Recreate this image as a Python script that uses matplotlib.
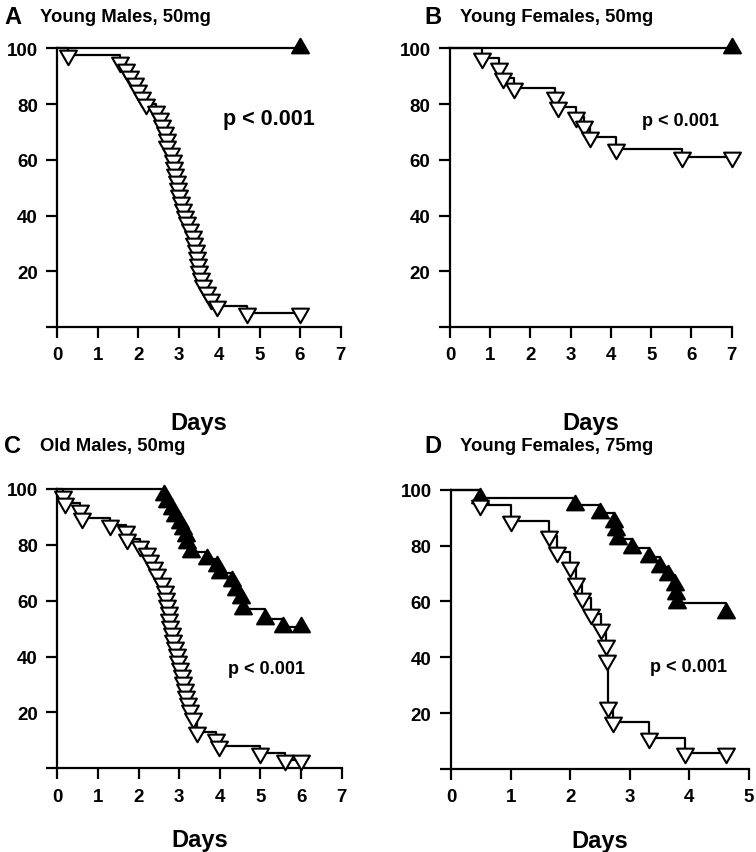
import matplotlib
matplotlib.use("Agg")
import matplotlib.pyplot as plt
from matplotlib.path import Path

plt.rcParams['font.family'] = ['Liberation Sans', 'DejaVu Sans']
plt.rcParams['font.weight'] = 'bold'

# ---- data (days, % survival) ----
# A: young males, 50mg
a_open_t = [0.27, 1.55, 1.70, 1.80, 1.92, 2.00, 2.10, 2.20, 2.45, 2.55, 2.60, 2.65, 2.70,
            2.72, 2.80, 2.85, 2.88, 2.92, 2.95, 2.98, 3.02, 3.05, 3.10, 3.15, 3.20, 3.28,
            3.35, 3.38, 3.42, 3.45, 3.48, 3.50, 3.55, 3.60, 3.70, 3.80, 3.95, 4.70, 6.00]
a_open_s = [97.5, 95.0, 92.5, 90.0, 87.5, 85.0, 82.5, 80.0, 77.5, 75.0, 72.5, 70.0, 67.5,
            65.0, 62.5, 60.0, 57.5, 55.0, 52.5, 50.0, 47.5, 45.0, 42.5, 40.0, 37.5, 35.0,
            32.5, 30.0, 27.5, 25.0, 22.5, 20.0, 17.5, 15.0, 12.5, 10.0, 7.5, 5.0, 5.0]
a_fill_t = [6.0]
a_fill_s = [100.0]

# B: young females, 50mg
b_open_t = [0.79, 1.22, 1.32, 1.60, 2.62, 2.68, 3.13, 3.33, 3.47, 4.13, 5.76, 7.00]
b_open_s = [96.5, 93.0, 89.5, 85.7, 82.5, 79.0, 75.5, 72.0, 68.0, 64.0, 61.0, 61.0]
b_fill_t = [7.0]
b_fill_s = [100.0]

# C: old males, 50mg
c_open_t = [0.15, 0.20, 0.55, 0.62, 1.30, 1.68, 1.72, 2.04, 2.21, 2.29, 2.38, 2.46, 2.58,
            2.66, 2.68, 2.70, 2.74, 2.76, 2.78, 2.82, 2.86, 2.90, 2.94, 2.98, 3.02, 3.06,
            3.10, 3.14, 3.18, 3.22, 3.26, 3.34, 3.45, 3.90, 3.97, 5.00, 5.60, 6.00]
c_open_s = [97.5, 95.0, 92.5, 89.5, 87.0, 85.0, 82.0, 79.5, 77.0, 74.5, 72.0, 69.5, 66.5,
            63.5, 61.0, 58.5, 56.0, 53.5, 51.0, 48.5, 46.0, 43.5, 41.0, 38.5, 36.0, 33.5,
            31.0, 28.5, 26.0, 23.5, 21.0, 18.0, 13.0, 10.5, 8.0, 5.5, 3.0, 3.0]
c_fill_t = [2.62, 2.70, 2.83, 2.90, 3.03, 3.10, 3.16, 3.20, 3.28, 3.69, 3.94, 4.00, 4.31,
            4.39, 4.52, 4.56, 5.10, 5.55, 6.00]
c_fill_s = [98.0, 95.5, 93.0, 90.5, 88.0, 85.5, 83.0, 80.5, 77.5, 75.0, 72.5, 70.0, 67.0,
            64.0, 61.0, 57.0, 53.5, 50.5, 50.5]

# D: young females, 75mg
d_open_t = [0.48, 1.00, 1.65, 1.78, 2.00, 2.10, 2.20, 2.35, 2.52, 2.60, 2.61, 2.64, 2.72,
            3.33, 3.93, 4.61]
d_open_s = [94.4, 88.9, 83.3, 77.8, 72.2, 66.7, 61.1, 55.6, 50.0, 44.4, 38.9, 22.2, 16.7,
            11.1, 5.6, 5.6]
d_fill_t = [0.48, 2.08, 2.50, 2.73, 2.77, 2.81, 3.03, 3.33, 3.50, 3.64, 3.75, 3.77, 3.80, 4.62]
d_fill_s = [97.0, 94.5, 91.5, 88.5, 85.5, 82.5, 79.0, 75.8, 72.5, 69.3, 66.0, 62.8, 59.3, 56.0]

letters = ['A', 'B', 'C', 'D']
titles = ['Young Males, 50mg', 'Young Females, 50mg', 'Old Males, 50mg', 'Young Females, 75mg']
xmax = [7, 7, 7, 5]

W, H = 756, 853

# triangles with centroid on the data point
tri_down = Path([(-1, 0.577), (1, 0.577), (0, -1.155), (-1, 0.577)],
                [Path.MOVETO, Path.LINETO, Path.LINETO, Path.CLOSEPOLY])
tri_up = Path([(-1, -0.577), (1, -0.577), (0, 1.155), (-1, -0.577)],
              [Path.MOVETO, Path.LINETO, Path.LINETO, Path.CLOSEPOLY])

fig = plt.figure(figsize=(W / 100, H / 100), dpi=100)

# axes boxes in pixels: left, top, right, bottom
boxes = [(57.3, 49.3, 340.5, 328.0),
         (450.0, 49.3, 731.7, 328.0),
         (57.3, 490.0, 341.7, 769.3),
         (451.0, 490.7, 749.0, 770.0)]

data = [(a_open_t, a_open_s, a_fill_t, a_fill_s),
        (b_open_t, b_open_s, b_fill_t, b_fill_s),
        (c_open_t, c_open_s, c_fill_t, c_fill_s),
        (d_open_t, d_open_s, d_fill_t, d_fill_s)]

p_pos = [(269, 120, 15.5), (681, 122, 13), (267, 670, 13), (689, 668, 13)]


def km(ax, t, s, marker, face):
    xs = [0] + list(t)
    ys = [100] + list(s)
    ax.step(xs, ys, where='post', color='black', lw=1.6, clip_on=False, zorder=2)
    ax.plot(t, s, ls='none', marker=marker, ms=14, mfc=face, mec='black', mew=1.5,
            clip_on=False, zorder=3)


for i in range(4):
    l, t, r, b = boxes[i]
    ax = fig.add_axes([l / W, 1 - b / H, (r - l) / W, (b - t) / H])
    ot, os_, ft, fs = data[i]
    km(ax, ft, fs, tri_up, 'black')
    km(ax, ot, os_, tri_down, 'white')
    ax.set_xlim(0, xmax[i])
    ax.set_ylim(0, 100)
    ax.set_xticks(range(xmax[i] + 1))
    ax.set_yticks([0, 20, 40, 60, 80, 100])
    ax.set_yticklabels(['', '20', '40', '60', '80', '100'])
    for sp in ['top', 'right']:
        ax.spines[sp].set_visible(False)
    for sp in ['left', 'bottom']:
        ax.spines[sp].set_linewidth(1.6)
    ax.tick_params(direction='out', length=8, width=1.6, pad=6, labelsize=13.5)
    for lab in ax.get_xticklabels() + ax.get_yticklabels():
        lab.set_fontweight('bold')
    ax.set_xlabel('Days', fontsize=17, fontweight='bold', labelpad=34 if i < 2 else 17)
    px, py, pfs = p_pos[i]
    fig.text(px / W, 1 - py / H, 'p < 0.001', fontsize=pfs, fontweight='bold',
             ha='center', va='center')
    lx = 4 if i % 2 == 0 else 424
    ly = 17 if i < 2 else 447
    fig.text(lx / W, 1 - ly / H, letters[i], fontsize=17, fontweight='bold',
             ha='left', va='center')
    fig.text((lx + 36) / W, 1 - ly / H, titles[i], fontsize=13.3, fontweight='bold',
             ha='left', va='center')

fig.savefig('out.png', dpi=100)
